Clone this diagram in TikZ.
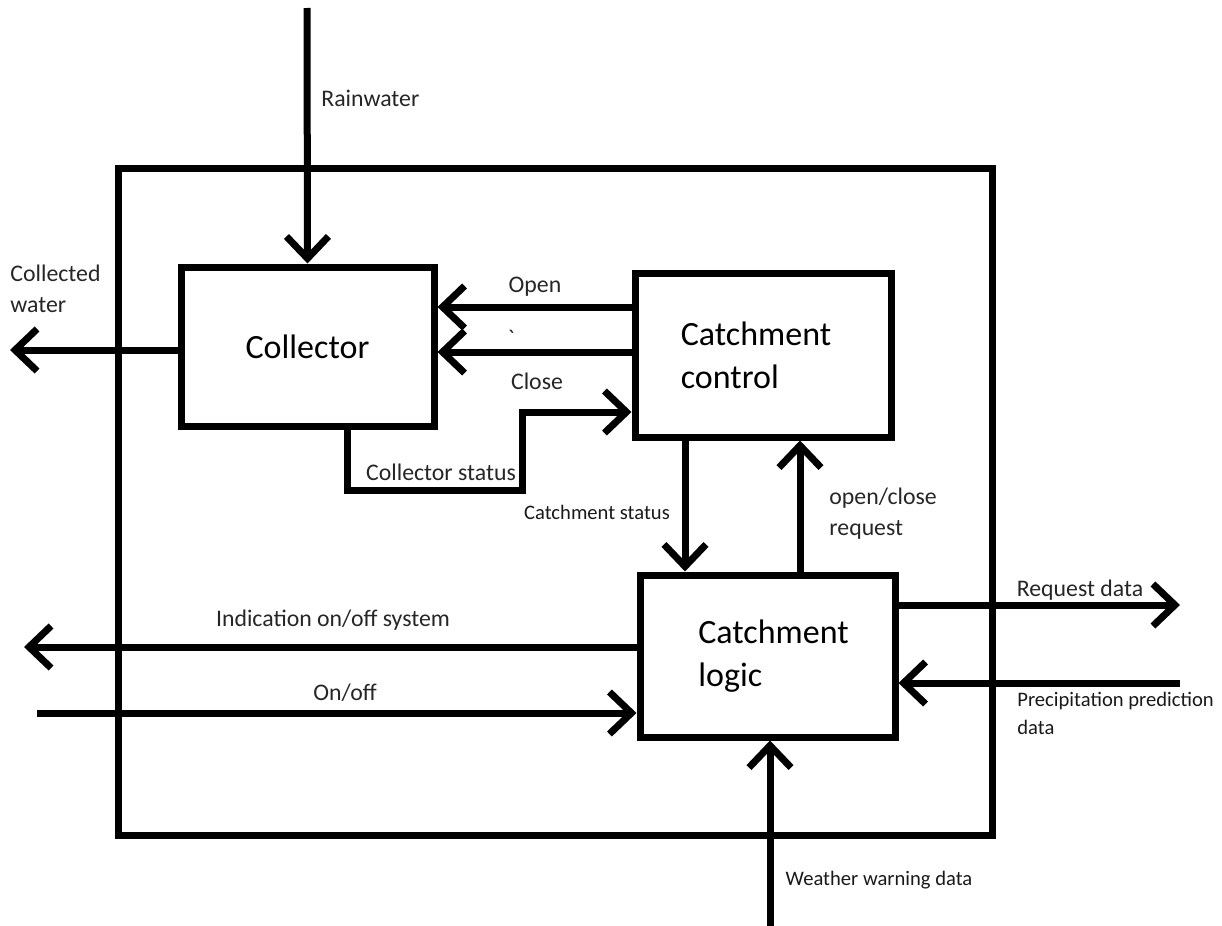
\documentclass[tikz,border=0pt]{standalone}
\usepackage{fontspec}
\setmainfont{Carlito}
\usetikzlibrary{arrows.meta}
\tikzset{
  box/.style={draw, line width=3.5pt, fill=white, inner sep=0pt, font=\fontsize{17}{21.5}\selectfont, align=left},
  flow/.style={line width=3.5pt, -{Straight Barb[length=11pt,width=21pt]}},
  lbl/.style={text=black!85, inner sep=0pt, font=\fontsize{11.9}{15.5}\selectfont, align=left},
  slbl/.style={text=black!90, inner sep=0pt, font=\fontsize{10.3}{14}\selectfont, align=left}
}
\begin{document}
\begin{tikzpicture}[x=0.5pt,y=-0.5pt]
\useasboundingbox (0,0) rectangle (1222,926);
% outer frame
\node[draw, line width=3.5pt, minimum width=437pt, minimum height=333.5pt, inner sep=0pt] (frame) at (555,501.5) {};
% boxes
\node[box, minimum width=126.5pt, minimum height=79.5pt] (coll) at (307.5,346.5) {Collector};
\node[box, minimum width=128pt, minimum height=82pt] (ctrl) at (763,355) {Catchment\hspace*{7pt}\\control};
\node[box, minimum width=127.5pt, minimum height=81pt] (logic) at (767.5,656) {\hspace*{6pt}Catchment\\\hspace*{6pt}logic};
% free-end coordinates
\coordinate (rainTop) at (307,8);
\coordinate (cwEnd) at (10,350);
\coordinate (yOpen) at (0,307);
\coordinate (yMid) at (0,352);
\coordinate (cs1) at (347,490);
\coordinate (cs2) at (522,490);
\coordinate (yCs) at (0,412);
\coordinate (xCatch) at (685,0);
\coordinate (xReq) at (800,0);
\coordinate (reqEnd) at (1180,605);
\coordinate (precStart) at (1180,683);
\coordinate (indEnd) at (24,647);
\coordinate (onStart) at (37,713);
\coordinate (wwStart) at (770,926);
% connectors
\draw[flow] (rainTop) -- (coll.north);
\draw[flow] (coll.west |- cwEnd) -- (cwEnd);
\draw[flow] (ctrl.west |- yOpen) -- (coll.east |- yOpen);
\draw[flow] (ctrl.west |- yMid) -- (coll.east |- yMid);
\draw[flow] (coll.south -| cs1) -- (cs1) -- (cs2) -- (cs2 |- yCs) -- (ctrl.west |- yCs);
\draw[flow] (ctrl.south -| xCatch) -- (logic.north -| xCatch);
\draw[flow] (logic.north -| xReq) -- (ctrl.south -| xReq);
\draw[flow] (logic.east |- reqEnd) -- (reqEnd);
\draw[flow] (precStart) -- (logic.east |- precStart);
\draw[flow] (logic.west |- indEnd) -- (indEnd);
\draw[flow] (onStart) -- (logic.west |- onStart);
\draw[flow] (wwStart) -- (logic.south -| wwStart);
% labels
\node[lbl, anchor=west] (lRain) at (321,98) {Rainwater};
\node[lbl, anchor=north west] (lCw) at (10,265) {Collected\\water};
\node[lbl] (lOpen) at (535,287) {Open};
\node[lbl] (lTick) at (511,338) {\textasciigrave};
\node[lbl] (lClose) at (537,381) {Close};
\node[lbl] (lCs) at (441,472) {Collector status};
\node[slbl] (lCatch) at (597,512) {Catchment status};
\node[lbl, anchor=north west] (lReq) at (829,488) {open/close\\request};
\node[lbl] (lRd) at (1080,590) {Request data};
\node[slbl, anchor=north west] (lPrec) at (1017,692) {Precipitation prediction\\data};
\node[lbl] (lInd) at (333,620) {Indication on/off system};
\node[lbl] (lOn) at (345,693) {On/off};
\node[slbl] (lWw) at (879,880) {Weather warning data};
\end{tikzpicture}
\end{document}
